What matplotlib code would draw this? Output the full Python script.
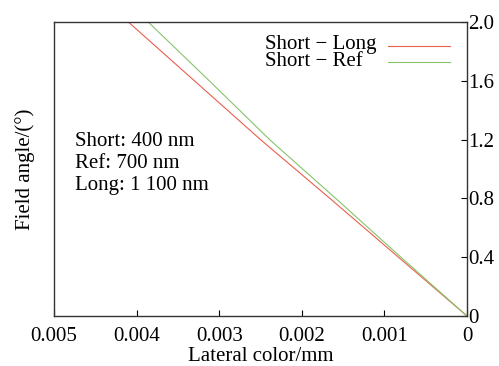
import matplotlib
matplotlib.use("Agg")
import matplotlib.pyplot as plt

plt.rcParams['font.family'] = ['Liberation Serif', 'DejaVu Serif']

# field angle (deg) and lateral colour (mm)
field = [0, 0.4, 0.8, 1.2, 1.6, 2.0]
short_long = [0, 0.00083, 0.00166, 0.00250, 0.00330, 0.00410]
short_ref = [0, 0.00080, 0.00159, 0.00239, 0.00312, 0.00386]

series_labels = ["Short \u2212 Long", "Short \u2212 Ref"]
series_colors = ['#e8604c', '#86c46a']

xticks = [0.005, 0.004, 0.003, 0.002, 0.001, 0]
xlabels = ["0.005", "0.004", "0.003", "0.002", "0.001", "0"]
yticks = [0, 0.4, 0.8, 1.2, 1.6, 2.0]
ylabels = ["0", "0.4", "0.8", "1.2", "1.6", "2.0"]

fig = plt.figure(figsize=(4.99, 3.66), dpi=100)
ax = fig.add_axes([54/499, 1-316/366, 413/499, 294/366])

ax.plot(short_long, field, color=series_colors[0], lw=0.8)
ax.plot(short_ref, field, color=series_colors[1], lw=0.8)

ax.set_xlim(0.005, 0)
ax.set_ylim(0, 2.0)
ax.set_xticks(xticks)
ax.set_xticklabels(xlabels)
ax.set_yticks(yticks)
ax.set_yticklabels(ylabels)
ax.yaxis.tick_right()
ax.tick_params(direction='in', length=4, width=0.8, labelsize=15)
ax.tick_params(axis='x', pad=8)
ax.tick_params(axis='y', pad=1)
for s in ax.spines.values():
    s.set_color('#333333')
    s.set_linewidth(1.0)

ax.set_xlabel("Lateral color/mm", fontsize=15, labelpad=0.5)
ax.set_ylabel("Field angle/(°)", fontsize=15, labelpad=14)
ax.yaxis.set_label_position('left')

ax.text(0.05, 0.625, "Short: 400 nm\nRef: 700 nm\nLong: 1 100 nm", transform=ax.transAxes,
        fontsize=15, va='top', ha='left', linespacing=1.22)

# legend: text left-aligned, short line sample to its right
for i, (lab, col) in enumerate(zip(series_labels, series_colors)):
    ty = 0.925 - i * 0.058
    ax.text(0.511, ty, lab, transform=ax.transAxes, fontsize=15, va='center', ha='left')
    ax.plot([0.809, 0.959], [ty - 0.006 + i * 0.002] * 2, color=col, lw=0.8,
            transform=ax.transAxes)

fig.savefig("out.png", dpi=100)
